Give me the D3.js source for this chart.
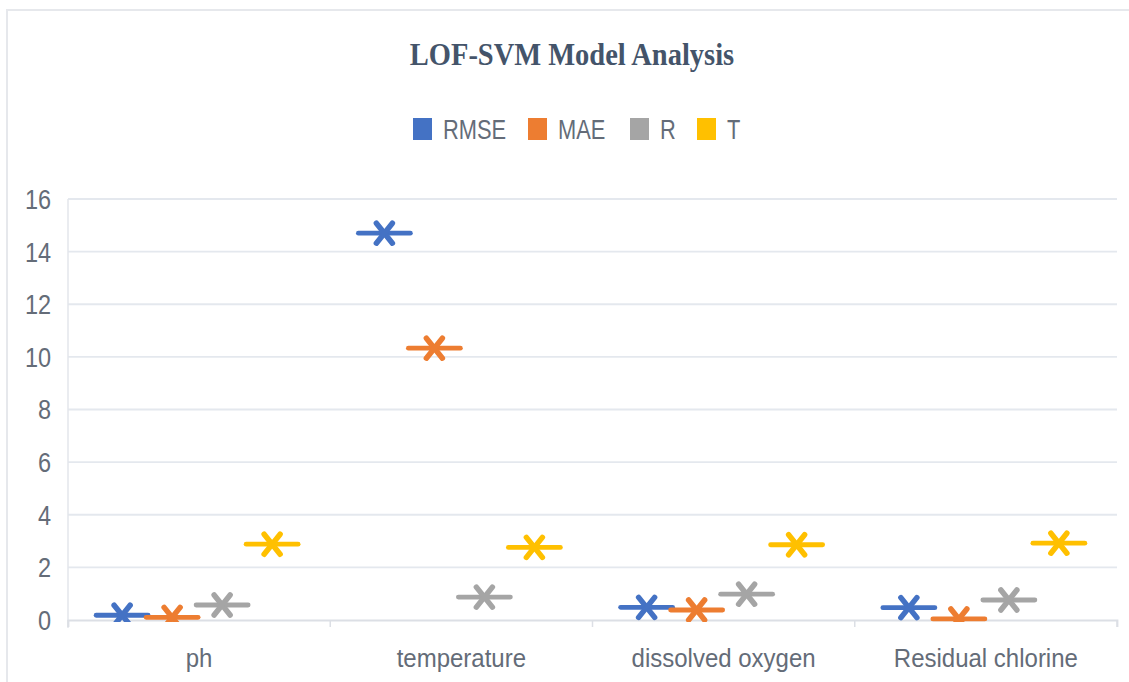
<!DOCTYPE html>
<html>
<head>
<meta charset="utf-8">
<script src="https://cdn.jsdelivr.net/npm/d3@7/dist/d3.min.js"></script>
<style>
  html, body { margin: 0; padding: 0; background: #ffffff; }
  svg { display: block; }
</style>
</head>
<body>
<svg id="chart" width="1129" height="682"></svg>
<script>
// Model evaluation metrics per water-quality indicator
const categories = ["ph", "temperature", "dissolved oxygen", "Residual chlorine"];
const seriesNames = ["RMSE", "MAE", "R", "T"];
const rmse = [0.18, 14.7, 0.48, 0.47];
const mae  = [0.10, 10.33, 0.38, 0.04];
const rVal = [0.57, 0.87, 0.98, 0.76];
const tVal = [2.88, 2.76, 2.86, 2.92];
const yTicks = [0, 2, 4, 6, 8, 10, 12, 14, 16];
const colors = ["#4472C4", "#ED7D31", "#A5A5A5", "#FFC000"];

const seriesValues = [rmse, mae, rVal, tVal];

const W = 1129, H = 682;
const svg = d3.select("#chart");
svg.append("rect").attr("width", W).attr("height", H).attr("fill", "#ffffff");

// chart frame edges
svg.append("path")
  .attr("d", `M7,${H} L7,10 L${W},10`)
  .attr("fill", "none").attr("stroke", "#e6e8ec").attr("stroke-width", 2);

const plot = { left: 68, right: 1117, top: 199, bottom: 620 };

const y = d3.scaleLinear().domain([0, 16]).range([plot.bottom, plot.top]);
const x = d3.scaleBand().domain(categories).range([plot.left, plot.right]).padding(0);
const inner = d3.scaleBand().domain(seriesNames).range([-102, 98]).padding(0);

const textColor = "#646c78";
const font = "'Liberation Sans', Arial, sans-serif";

// plot-area clip so markers near zero are cut at the axis
svg.append("defs").append("clipPath").attr("id", "plot-clip")
  .append("rect")
  .attr("x", plot.left - 40).attr("y", plot.top - 40)
  .attr("width", plot.right - plot.left + 80)
  .attr("height", plot.bottom - plot.top + 42);

// condense text horizontally around its anchor
function condense(sel, sx) {
  sel.each(function () {
    const t = d3.select(this);
    const ax = +t.attr("x"), ay = +t.attr("y");
    t.attr("transform", `translate(${ax},${ay}) scale(${sx},1) translate(${-ax},${-ay})`);
  });
}

// gridlines
svg.append("g").selectAll("line")
  .data(yTicks.filter(d => d > 0))
  .join("line")
  .attr("x1", plot.left).attr("x2", plot.right)
  .attr("y1", d => y(d)).attr("y2", d => y(d))
  .attr("stroke", "#e4e8ee").attr("stroke-width", 1.8);

// y axis line
svg.append("line")
  .attr("x1", plot.left).attr("x2", plot.left)
  .attr("y1", plot.top).attr("y2", plot.bottom + 8)
  .attr("stroke", "#e3e6eb").attr("stroke-width", 1.5);

// x axis
const xAxis = d3.axisBottom(x).tickSize(7).tickFormat("");
const gx = svg.append("g").attr("transform", `translate(0,${plot.bottom})`).call(xAxis);
gx.select(".domain").attr("stroke", "#dcdfe5").attr("stroke-width", 1.8);
gx.selectAll(".tick line").remove();
// ticks at category boundaries
gx.selectAll("line.bound")
  .data(d3.range(categories.length + 1))
  .join("line").attr("class", "bound")
  .attr("x1", i => plot.left + i * x.bandwidth())
  .attr("x2", i => plot.left + i * x.bandwidth())
  .attr("y1", 0).attr("y2", 7)
  .attr("stroke", "#dcdfe5").attr("stroke-width", 1.5);

// y tick labels
const yl = svg.append("g").selectAll("text")
  .data(yTicks)
  .join("text")
  .attr("x", 51).attr("y", d => y(d) + 10)
  .attr("text-anchor", "end")
  .attr("font-family", font).attr("font-size", 27)
  .attr("fill", textColor)
  .text(d => d);
condense(yl, 0.87);

// category labels
const cl = svg.append("g").selectAll("text")
  .data(categories)
  .join("text")
  .attr("x", d => x(d) + x.bandwidth() / 2).attr("y", 667)
  .attr("text-anchor", "middle")
  .attr("font-family", font).attr("font-size", 25)
  .attr("fill", textColor)
  .text(d => d);
condense(cl, 0.96);

// title
const title = svg.append("text")
  .attr("x", 572).attr("y", 65)
  .attr("text-anchor", "middle")
  .attr("font-family", "'Liberation Serif', 'Times New Roman', serif")
  .attr("font-weight", "bold").attr("font-size", 32)
  .attr("fill", "#44546A")
  .text("LOF-SVM Model Analysis");
condense(title, 0.89);

// legend
const legendX = [413, 528, 630, 697];
const lg = svg.append("g").selectAll("g")
  .data(seriesNames)
  .join("g")
  .attr("transform", (d, i) => `translate(${legendX[i]},118)`);
lg.append("rect")
  .attr("x", 0).attr("y", 0).attr("width", 19).attr("height", 22)
  .attr("fill", (d, i) => colors[i]);
const lt = lg.append("text")
  .attr("x", 30).attr("y", 21)
  .attr("font-family", font).attr("font-size", 28)
  .attr("fill", textColor)
  .text(d => d);
condense(lt, 0.78);

// markers: horizontal dash with an X overlay
const points = [];
seriesNames.forEach((s, si) => {
  categories.forEach((c, ci) => {
    points.push({ series: s, si, cat: c, value: seriesValues[si][ci] });
  });
});

const mk = svg.append("g").attr("clip-path", "url(#plot-clip)")
  .selectAll("g")
  .data(points)
  .join("g")
  .attr("transform", d => `translate(${x(d.cat) + x.bandwidth() / 2 + inner(d.series) + inner.bandwidth() / 2},${y(d.value)})`)
  .attr("stroke", d => colors[d.si])
  .attr("stroke-linecap", "round")
  .attr("fill", "none");

mk.append("line")
  .attr("x1", -26).attr("x2", 26).attr("y1", 0).attr("y2", 0)
  .attr("stroke-width", 4.8);
mk.append("line")
  .attr("x1", -8).attr("x2", 8).attr("y1", -10).attr("y2", 10)
  .attr("stroke-width", 5.5);
mk.append("line")
  .attr("x1", -8).attr("x2", 8).attr("y1", 10).attr("y2", -10)
  .attr("stroke-width", 5.5);
</script>
</body>
</html>
